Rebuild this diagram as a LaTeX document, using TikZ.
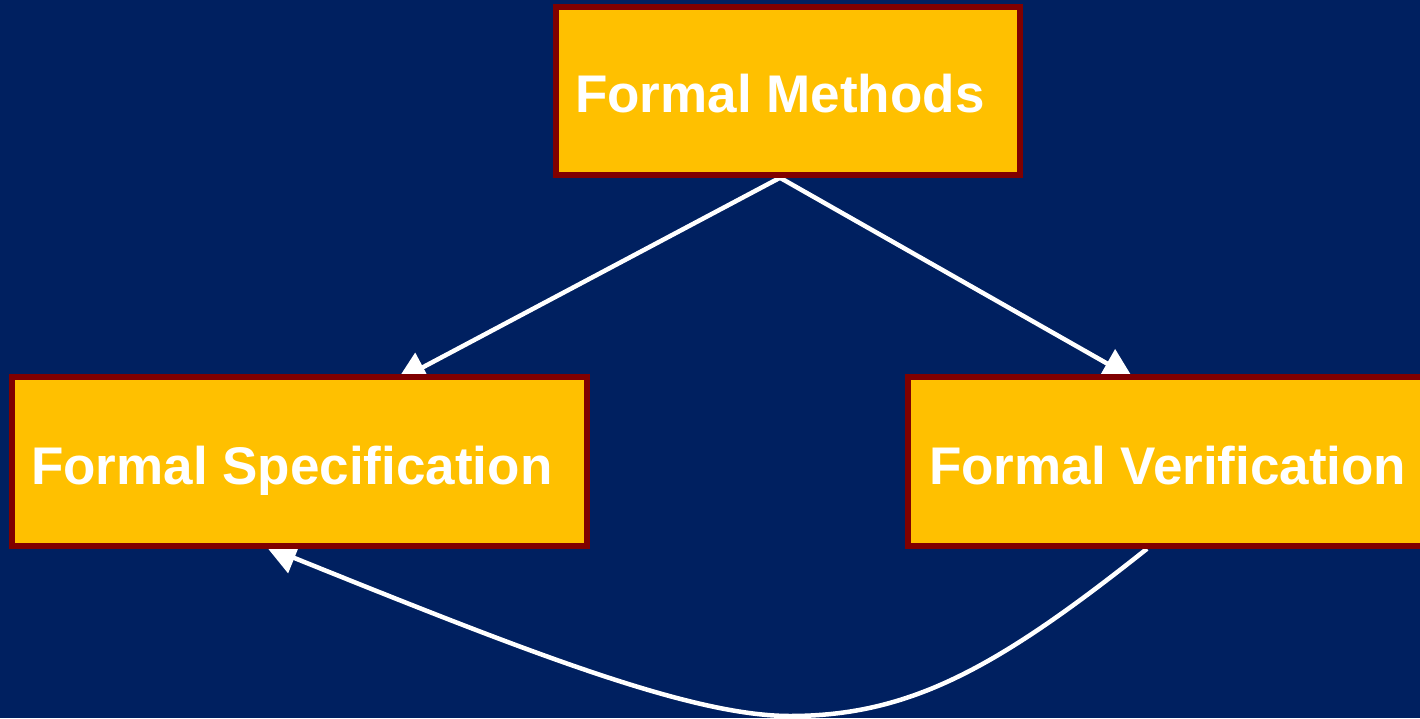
\documentclass[tikz,border=0pt]{standalone}
\usepackage{fontspec}
\setmainfont{Liberation Sans}
\usetikzlibrary{arrows.meta}
\definecolor{navy}{HTML}{002060}
\definecolor{gold}{HTML}{FFC000}
\definecolor{darkmaroon}{HTML}{800000}
\pgfdeclarelayer{back}
\pgfdeclarelayer{links}
\pgfsetlayers{back,links,main}

\begin{document}
\begin{tikzpicture}[x=1pt,y=-1pt,
  box/.style={draw=darkmaroon, fill=gold, line width=5.5pt, inner sep=0pt},
  caption/.style={text=white, inner sep=0pt, anchor=base west,
    font=\fontsize{53}{60}\selectfont\bfseries},
  link/.style={draw=white, line width=4.5pt,
    -{Triangle[length=30pt,width=32pt]}}]

\useasboundingbox (0,0) rectangle (1420,718);
\begin{pgfonlayer}{back}
  \fill[navy] (0,0) rectangle (1420,718);
\end{pgfonlayer}

% boxes
\node[box, minimum width=464pt, minimum height=168pt] (fm) at (788,91) {};
\node[box, minimum width=575pt, minimum height=169pt] (fs) at (299.5,461.5) {};
\node[box, minimum width=524pt, minimum height=169pt] (fv) at (1170,461.5) {};

% box texts
\node[caption] (fmt) at (575,112) {Formal Methods};
\node[caption] (fst) at (31,484) {Formal Specification};
\node[caption] (fvt) at (929,484) {Formal Verification};

% connectors, kept under the boxes
\coordinate (dip) at (790,716);
\begin{pgfonlayer}{links}
  \draw[link] ([xshift=-8pt]fm.south) -- ([xshift=97pt,yshift=-7pt]fs.north);
  \draw[link] ([xshift=-8pt]fm.south) -- ([xshift=-37pt,yshift=-4pt]fv.north);
  \draw[link] ([xshift=-23pt]fv.south)
    .. controls (997,668) and (910,716) .. (dip)
    .. controls (690,716) and (525,651) .. ([xshift=-33pt,yshift=2pt]fs.south);
\end{pgfonlayer}
\end{tikzpicture}
\end{document}
